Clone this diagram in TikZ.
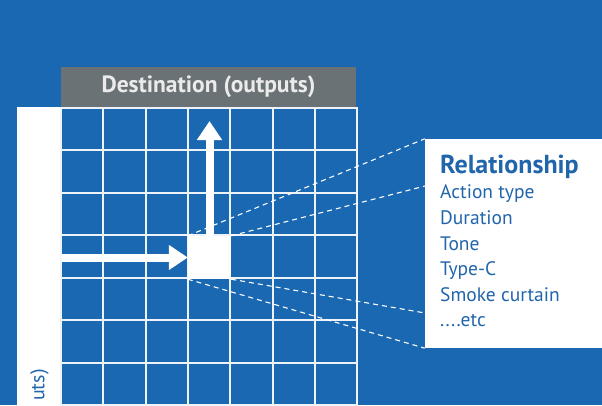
\documentclass[tikz,border=0pt]{standalone}
\usepackage{fontspec}
\setmainfont{PT Sans}
\usetikzlibrary{arrows.meta}

\definecolor{bgblue}{RGB}{26,104,177}
\definecolor{headgrey}{RGB}{107,114,117}
\definecolor{inkblue}{RGB}{33,101,171}

\begin{document}
\begin{tikzpicture}[
  x = 1pt,
  y = -1pt,
  header/.style = {
    fill = headgrey,
    minimum width = 295pt,
    minimum height = 40pt,
    inner sep = 0pt,
    text = white!92!black,
    font = \fontsize{23.5}{23.5}\selectfont\bfseries
  },
  sidebar/.style = {
    fill = white,
    minimum width = 44pt,
    minimum height = 298pt,
    inner sep = 0pt
  },
  cellmark/.style = {
    fill = white,
    minimum size = 43pt,
    inner sep = 0pt
  },
  relbox/.style = {
    fill = white,
    minimum width = 177pt,
    minimum height = 209pt,
    inner sep = 0pt
  },
  gridline/.style = {
    draw = white!92!bgblue,
    line width = 2pt
  },
  bigarrow/.style = {
    draw = white,
    line width = 8pt,
    -{Triangle[length = 19pt, width = 24pt]}
  },
  link/.style = {
    draw = white,
    line width = 1.1pt,
    dash pattern = on 5pt off 4pt
  },
  item/.style = {
    anchor = base west,
    inner sep = 0pt,
    text = inkblue,
    font = \fontsize{19.5}{19.5}\selectfont
  }
]
  \fill[bgblue] (0, 0) rectangle (602, 405);
  \useasboundingbox (0, 0) rectangle (602, 405);

  \node[header] (dest) at (208.5, 87) {Destination (outputs)};
  \node[sidebar] (src) at (39, 256) {};
  \node[rotate = 90, anchor = east, inner sep = 0pt, text = inkblue,
    font = \fontsize{20}{20}\selectfont] (srclabel) at (39.5, 369) {uts)};

  % grid of sources and destinations
  \foreach \i in {0, ..., 7} {
    \draw[gridline] (61 + 42.3 * \i, 107) -- (61 + 42.3 * \i, 406);
    \draw[gridline] (61, 108 + 42.45 * \i) -- (357, 108 + 42.45 * \i);
  }

  \node[cellmark] (cell) at (209.5, 257.5) {};
  \node[relbox] (rel) at (513.5, 243.5) {};
  \coordinate (uptip) at (209.5, 121);
  \coordinate (relA) at (425, 186);
  \coordinate (relB) at (425, 313);

  \draw[link] (cell.north west) -- (rel.north west);
  \draw[link] (cell.north east) -- (relA);
  \draw[link] (cell.south east) -- (relB);
  \draw[link] (cell.south west) -- (rel.south west);

  \draw[bigarrow] (src.east |- cell) -- (cell.west);
  \draw[bigarrow] (cell.north) -- (uptip);

  \node[item, font = \fontsize{26}{26}\selectfont\bfseries] (title) at (440, 173) {Relationship};
  \node[item] (i1) at (440, 198) {Action type};
  \node[item] (i2) at (440, 224) {Duration};
  \node[item] (i3) at (440, 250) {Tone};
  \node[item] (i4) at (440, 275.5) {Type-C};
  \node[item] (i5) at (440, 301) {Smoke curtain};
  \node[item] (i6) at (440, 326.5) {....etc};
\end{tikzpicture}
\end{document}
